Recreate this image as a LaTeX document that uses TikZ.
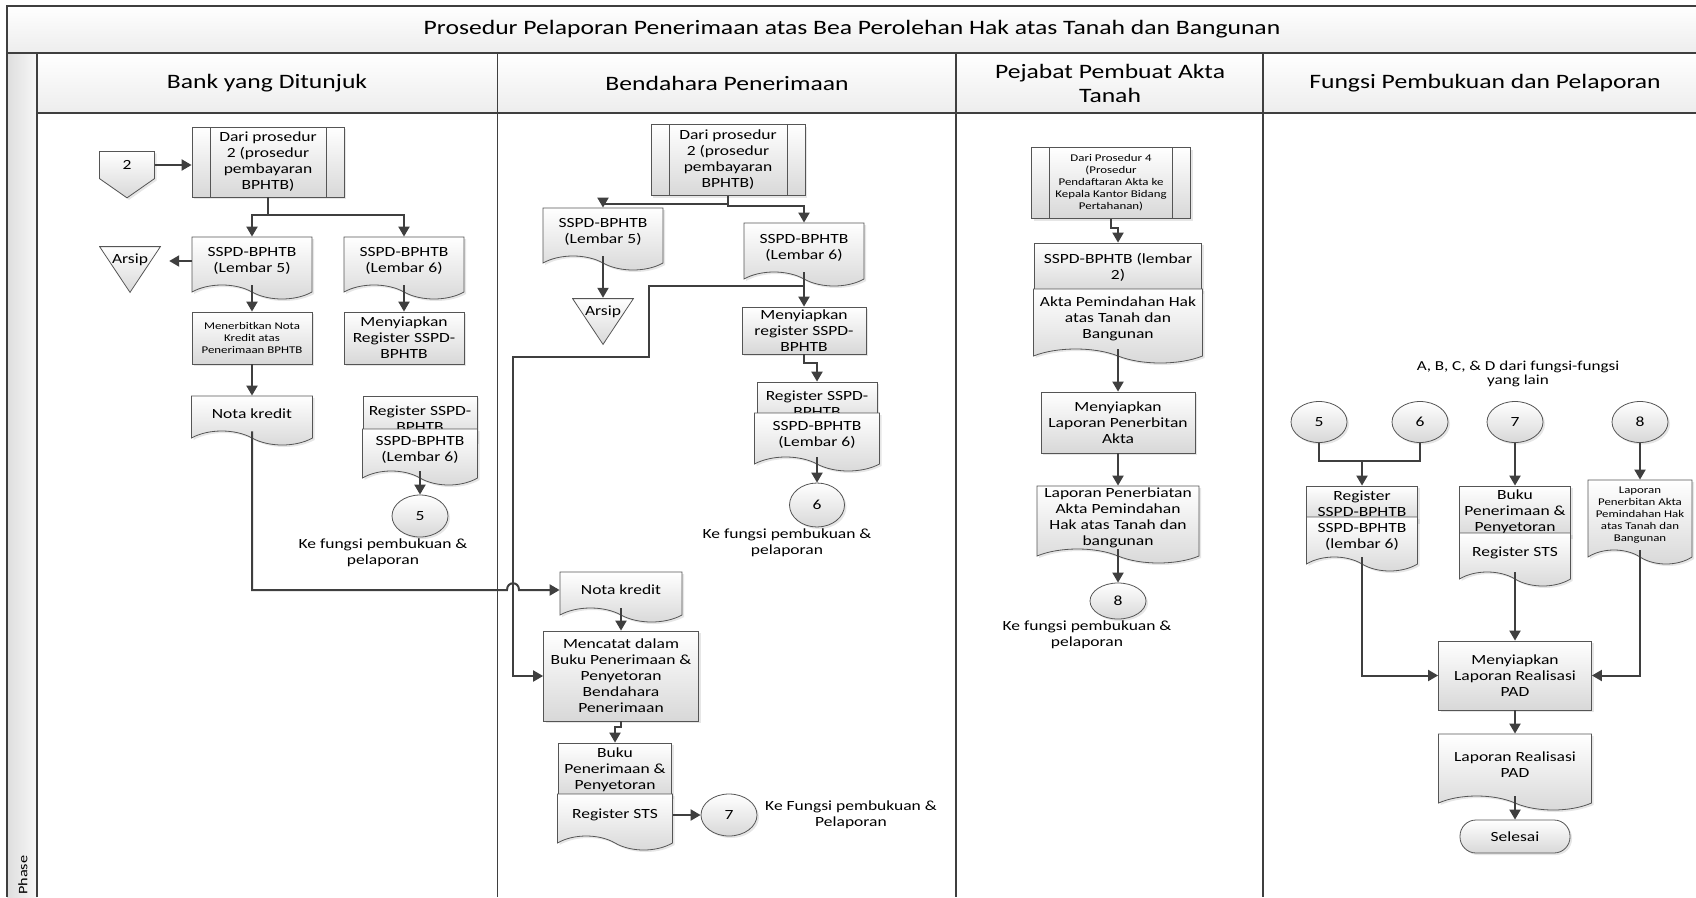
\documentclass[tikz,border=0pt]{standalone}
\usepackage{fontspec}
\setmainfont{Carlito}[FakeStretch=1.25]
\usetikzlibrary{positioning,shapes.geometric,shapes.symbols,arrows.meta,shadows}

\definecolor{linegray}{HTML}{3F3F3F}
\definecolor{edgegray}{HTML}{555555}
\definecolor{shadegray}{HTML}{D8D8D8}
\definecolor{headgray}{HTML}{EDEDED}

\newcommand{\normaltext}{\fontsize{14}{16}\selectfont}
\newcommand{\smalltext}{\fontsize{10.3}{12}\selectfont}
\newcommand{\headtext}{\fontsize{20.5}{24}\selectfont}

\tikzstyle{basicbox} = [rectangle, draw=edgegray, line width=0.8pt, top color=white, bottom color=shadegray, align=center, inner sep=1pt, font=\normaltext, drop shadow={shadow xshift=2pt, shadow yshift=-2pt, opacity=0.2}]
\tikzstyle{procbox} = [basicbox, path picture={
	\draw[edgegray, line width=0.8pt]
	([xshift=18pt]path picture bounding box.north west) -- ([xshift=18pt]path picture bounding box.south west)
	([xshift=-18pt]path picture bounding box.north east) -- ([xshift=-18pt]path picture bounding box.south east);}]
\tikzstyle{docbox} = [basicbox, tape, tape bend top=none, tape bend bottom=out and in, tape bend height=14pt]
\tikzstyle{connbox} = [basicbox, ellipse, minimum width=56pt, minimum height=42pt]
\tikzstyle{arsipbox} = [rectangle, minimum width=62pt, minimum height=47pt, inner sep=0pt, font=\normaltext, path picture={
	\shadedraw[top color=white, bottom color=shadegray, draw=edgegray, line width=0.8pt]
	([xshift=0.6pt,yshift=-0.6pt]path picture bounding box.north west) -- ([xshift=-0.6pt,yshift=-0.6pt]path picture bounding box.north east) -- ([yshift=0.6pt]path picture bounding box.south) -- cycle;}]
\tikzstyle{offbox} = [basicbox, signal, signal to=south, signal pointer angle=110, minimum width=55pt, minimum height=31pt]
\tikzstyle{endbox} = [basicbox, rounded corners=16pt, minimum width=110pt, minimum height=33pt]
\tikzstyle{note} = [align=center, font=\normaltext]
\tikzstyle{link} = [line width=2pt, draw=linegray]
\tikzstyle{arrow} = [link, -{Triangle[length=10pt,width=11pt]}]
\tikzstyle{frame} = [line width=1.6pt, draw=linegray]

\begin{document}
\begin{tikzpicture}[x=1pt, y=-1pt, node distance=20pt]
\useasboundingbox (0,0) rectangle (1696,897);

% swimlane frame
\shade[top color=white, bottom color=headgray] (7,6) rectangle (1696,53);
\shade[left color=black!13, right color=black!3] (7,53) rectangle (37,897);
\shade[top color=white, bottom color=headgray] (37,53) rectangle (1696,113);
\draw[frame] (1696,6) -- (7,6) -- (7,897);
\draw[frame] (7,53) -- (1696,53);
\draw[frame] (37,53) -- (37,897);
\draw[frame] (37,113) -- (1696,113);
\foreach \xlane in {497.5,956,1263}
	\draw[frame] (\xlane,53) -- (\xlane,897);

\node (title) [font=\headtext] at (852,29) {Prosedur Pelaporan Penerimaan atas Bea Perolehan Hak atas Tanah dan Bangunan};
\node (hdrBank) [font=\headtext] at (267,83) {Bank yang Ditunjuk};
\node (hdrBend) [font=\headtext] at (727,83) {Bendahara Penerimaan};
\node (hdrPPAT) [font=\headtext, align=center] at (1110,83) {Pejabat Pembuat Akta\\Tanah};
\node (hdrFungsi) [font=\headtext] at (1485,83) {Fungsi Pembukuan dan Pelaporan};
\node (phase) [rotate=90, anchor=west, inner sep=1pt, font=\fontsize{13}{15}\selectfont] at (23,896) {Phase};

% Bank yang Ditunjuk
\node (off2) [offbox] at (127,165) {2};
\node (proc2A) [procbox, minimum width=152pt, minimum height=70pt] at (268,162) {Dari prosedur\\2 (prosedur\\pembayaran\\BPHTB)};
\node (doc5A) [docbox, minimum width=120pt, minimum height=62pt, node distance=99pt, below of=proc2A, xshift=-16pt] {SSPD-BPHTB\\(Lembar 5)};
\node (doc6A) [docbox, minimum width=120pt, minimum height=62pt, node distance=152pt, right of=doc5A] {SSPD-BPHTB\\(Lembar 6)};
\node (arsipA) [arsipbox, node distance=122pt, left of=doc5A, yshift=-8.5pt] {\raisebox{6.5pt}[0pt][0pt]{Arsip}};
\node (nerbitA) [basicbox, font=\smalltext, minimum width=120pt, minimum height=52pt, node distance=77pt, below of=doc5A] {Menerbitkan Nota\\Kredit atas\\Penerimaan BPHTB};
\node (siapA) [basicbox, minimum width=120pt, minimum height=52pt, node distance=152pt, right of=nerbitA] {Menyiapkan\\Register SSPD-\\BPHTB};
\node (notaA) [docbox, minimum width=121pt, minimum height=49pt, node distance=75.5pt, below of=nerbitA] {Nota kredit};
\node (regA) [basicbox, minimum width=114pt, minimum height=46pt, node distance=81pt, below of=siapA, xshift=16pt] {Register SSPD-\\BPHTB};
\node (lbr6A) [docbox, minimum width=115pt, minimum height=56pt, node distance=31pt, below of=regA] {SSPD-BPHTB\\(Lembar 6)};
\node (con5A) [connbox, node distance=66pt, below of=lbr6A] {5};
\node (ket5A) [note, node distance=37pt, below of=con5A, xshift=-37pt] {Ke fungsi pembukuan \&\\pelaporan};

% Bendahara Penerimaan
\node (proc2B) [procbox, minimum width=154pt, minimum height=71pt] at (728,160) {Dari prosedur\\2 (prosedur\\pembayaran\\BPHTB)};
\node (doc5B) [docbox, minimum width=120pt, minimum height=62pt, node distance=72pt, below of=proc2B, xshift=-125pt] {SSPD-BPHTB\\(Lembar 5)};
\node (doc6B) [docbox, minimum width=120pt, minimum height=63pt, node distance=87.5pt, below of=proc2B, xshift=76pt] {SSPD-BPHTB\\(Lembar 6)};
\node (arsipB) [arsipbox, node distance=89.5pt, below of=doc5B] {\raisebox{6.5pt}[0pt][0pt]{Arsip}};
\node (siapB) [basicbox, minimum width=124pt, minimum height=47pt, node distance=83pt, below of=doc6B] {Menyiapkan\\register SSPD-\\BPHTB};
\node (regB) [basicbox, minimum width=120pt, minimum height=44pt, node distance=73.5pt, below of=siapB, xshift=13pt] {Register SSPD-\\BPHTB};
\node (lbr6B) [docbox, minimum width=125pt, minimum height=58pt, node distance=31pt, below of=regB] {SSPD-BPHTB\\(Lembar 6)};
\node (con6B) [connbox, minimum width=55pt, minimum height=44pt, node distance=70pt, below of=lbr6B] {6};
\node (ket6B) [note, node distance=38pt, below of=con6B, xshift=-30pt] {Ke fungsi pembukuan \&\\pelaporan};
\node (notaB) [docbox, minimum width=122pt, minimum height=50pt] at (621,590) {Nota kredit};
\node (catatB) [basicbox, minimum width=155pt, minimum height=90pt, node distance=86pt, below of=notaB] {Mencatat dalam\\Buku Penerimaan \&\\Penyetoran\\Bendahara\\Penerimaan};
\node (bukuB) [basicbox, minimum width=113pt, minimum height=54pt, node distance=94pt, below of=catatB, xshift=-6pt] {Buku\\Penerimaan \&\\Penyetoran};
\node (stsB) [docbox, minimum width=115pt, minimum height=56pt, node distance=45pt, below of=bukuB] {Register STS};
\node (con7B) [connbox, node distance=114pt, right of=stsB] {7};
\node (ket7B) [note, node distance=122pt, right of=con7B] {Ke Fungsi pembukuan \&\\Pelaporan};

% Pejabat Pembuat Akta Tanah
\node (proc4C) [procbox, font=\smalltext, minimum width=159pt, minimum height=71pt] at (1111,183) {Dari Prosedur 4\\(Prosedur\\Pendaftaran Akta ke\\Kepala Kantor Bidang\\Pertahanan)};
\node (sspd2C) [basicbox, minimum width=167pt, minimum height=49pt, node distance=84.5pt, below of=proc4C, xshift=7pt] {SSPD-BPHTB (lembar\\2)};
\node (aktaC) [docbox, minimum width=169pt, minimum height=74pt, node distance=51.5pt, below of=sspd2C] {Akta Pemindahan Hak\\atas Tanah dan\\Bangunan};
\node (siapC) [basicbox, minimum width=154pt, minimum height=61pt, node distance=103.5pt, below of=aktaC] {Menyiapkan\\Laporan Penerbitan\\Akta};
\node (lapC) [docbox, minimum width=162pt, minimum height=77pt, node distance=95pt, below of=siapC] {Laporan Penerbiatan\\Akta Pemindahan\\Hak atas Tanah dan\\bangunan};
\node (con8C) [connbox, minimum height=36pt, node distance=83.5pt, below of=lapC] {8};
\node (ket8C) [note, node distance=34pt, below of=con8C, xshift=-31pt] {Ke fungsi pembukuan \&\\pelaporan};

% Fungsi Pembukuan dan Pelaporan
\node (capD) [note, font=\fontsize{13.7}{14.5}\selectfont] at (1518,374) {A, B, C, \& D dari fungsi-fungsi\\yang lain};
\node (c5D) [connbox, minimum height=41pt] at (1319,422) {5};
\node (c6D) [connbox, minimum height=41pt, node distance=101pt, right of=c5D] {6};
\node (c7D) [connbox, minimum height=41pt, node distance=95pt, right of=c6D] {7};
\node (c8D) [connbox, minimum height=41pt, node distance=125pt, right of=c7D] {8};
\coordinate (joinD) at (1362,461);
\node (regD) [basicbox, minimum width=111pt, minimum height=36pt, node distance=43pt, below of=joinD] {Register\\SSPD-BPHTB};
\node (lbr6D) [docbox, minimum width=111pt, minimum height=54pt, node distance=33pt, below of=regD] {SSPD-BPHTB\\(lembar 6)};
\node (bukuD) [basicbox, minimum width=111pt, minimum height=51pt, node distance=89.5pt, below of=c7D] {Buku\\Penerimaan \&\\Penyetoran};
\node (stsD) [docbox, minimum width=111pt, minimum height=53pt, node distance=41pt, below of=bukuD] {Register STS};
\node (lap8D) [docbox, font=\smalltext, minimum width=104pt, minimum height=84pt, node distance=93pt, below of=c8D] {Laporan\\Penerbitan Akta\\Pemindahan Hak\\atas Tanah dan\\Bangunan};
\node (realD) [basicbox, minimum width=153pt, minimum height=69pt, node distance=123pt, below of=stsD] {Menyiapkan\\Laporan Realisasi\\PAD};
\node (lapRealD) [docbox, minimum width=153pt, minimum height=76pt, node distance=89.5pt, below of=realD] {Laporan Realisasi\\PAD};
\node (selesaiD) [endbox, node distance=71.5pt, below of=lapRealD] {Selesai};

% bends of the long connectors
\coordinate (turnB1) at (649,357);
\coordinate (turnB2) at (513,357);
\coordinate (hopA) at (notaB.west -| turnB2);

% connectors: Bank
\draw [arrow] (off2.east) -- (off2.east -| proc2A.west);
\draw [arrow] (proc2A.south) -- ++(0,18) -| (doc5A.north);
\draw [arrow] (proc2A.south) -- ++(0,18) -| (doc6A.north);
\draw [arrow, shorten >=8pt] (doc5A.west) -- (doc5A.west -| arsipA.east);
\draw [arrow] (doc5A.south) -- (nerbitA.north);
\draw [arrow] (doc6A.south) -- (siapA.north);
\draw [arrow] (nerbitA.south) -- (notaA.north);
\draw [arrow] (lbr6A.south) -- (con5A.north);
\draw [arrow] (notaA.south) |- ([xshift=-6pt]hopA) .. controls +(0,-9) and +(0,-9) .. ([xshift=6pt]hopA) -- (notaB.west);

% connectors: Bendahara
\draw [arrow] (proc2B.south) -- ++(0,8) -| (doc5B.north);
\draw [arrow] (proc2B.south) -- ++(0,10) -| (doc6B.north);
\draw [arrow] (doc5B.south) -- (arsipB.north);
\draw [arrow] (doc6B.south) -- (siapB.north);
\draw [arrow] (doc6B.south) -- ++(0,14) -| (turnB1) -- (turnB2) |- (catatB.west);
\draw [arrow] (siapB.south) -- ++(0,9) -| (regB.north);
\draw [arrow] (lbr6B.south) -- (con6B.north);
\draw [arrow] (notaB.south) -- (catatB.north);
\draw [arrow] (catatB.south) -- ++(0,6) -| (bukuB.north);
\draw [arrow] (stsB.east) -- (con7B.west);

% connectors: PPAT
\draw [arrow] (proc4C.south) -- ++(0,9) -| (sspd2C.north);
\draw [arrow] (aktaC.south) -- (siapC.north);
\draw [arrow] (siapC.south) -- (lapC.north);
\draw [arrow] (lapC.south) -- (con8C.north);

% connectors: Fungsi
\draw [link] (c5D.south) |- (joinD);
\draw [link] (c6D.south) |- (joinD);
\draw [arrow] (joinD) -- (regD.north);
\draw [arrow] (c7D.south) -- (bukuD.north);
\draw [arrow] (c8D.south) -- (lap8D.north);
\draw [arrow] (lbr6D.south) |- (realD.west);
\draw [arrow] (stsD.south) -- (realD.north);
\draw [arrow] (lap8D.south) |- (realD.east);
\draw [arrow] (realD.south) -- (lapRealD.north);
\draw [arrow] (lapRealD.south) -- (selesaiD.north);

\end{tikzpicture}
\end{document}
